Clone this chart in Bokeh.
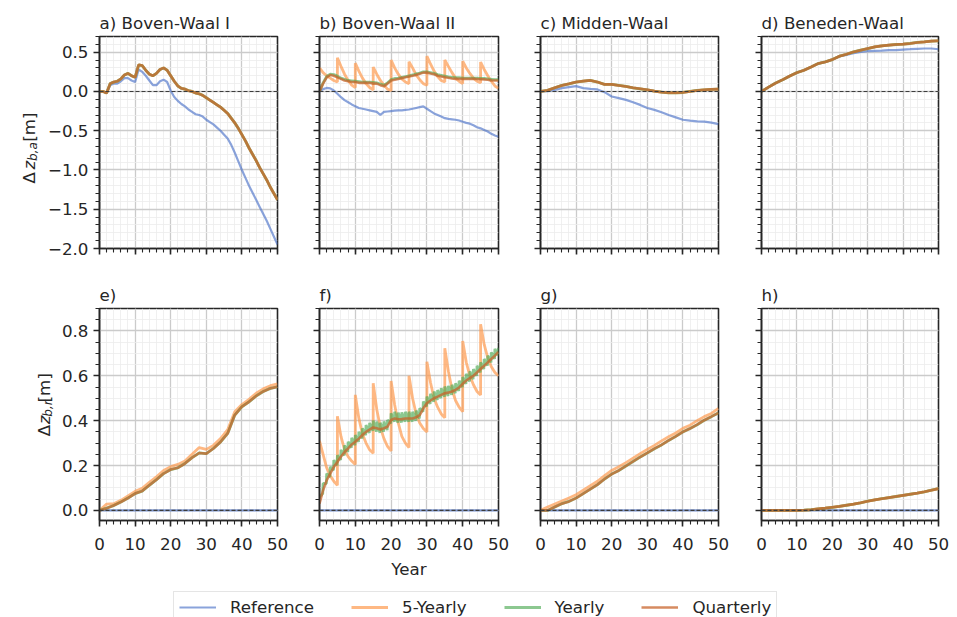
import math
from bokeh.plotting import figure
from bokeh.core.properties import value
from bokeh.models import (Range1d, FixedTicker, CustomJSTickFormatter, Span,
                          Legend, LegendItem)
from bokeh.layouts import row, column
from bokeh.embed import file_html
from bokeh.resources import INLINE

# ---------------------------------------------------------------- data
YEARS = list(range(0, 51))          # yearly sampled series
YEARS2 = list(range(0, 51, 2))      # two-yearly sampled series
ZERO_YEARS = [0, 50]
ZERO_REF = [0.0, 0.0]               # reference of the bottom row (no change)

# a) Boven-Waal I
A_REF = [0.0, 0.0, -0.02, 0.08, 0.1, 0.1, 0.13, 0.17, 0.17, 0.14, 0.12,
         0.28, 0.25, 0.2, 0.14, 0.08, 0.08, 0.13, 0.15, 0.12, 0.01,
         -0.07, -0.12, -0.16, -0.19, -0.23, -0.26, -0.29, -0.3, -0.32, -0.36,
         -0.39, -0.42, -0.46, -0.5, -0.55, -0.6, -0.68, -0.78, -0.89, -1.0,
         -1.1, -1.2, -1.29, -1.38, -1.47, -1.56, -1.65, -1.75, -1.85, -1.95]
A_SIM = [0.0, 0.0, -0.02, 0.1, 0.12, 0.13, 0.16, 0.21, 0.23, 0.2, 0.18,
         0.34, 0.33, 0.27, 0.22, 0.2, 0.23, 0.28, 0.3, 0.27, 0.2,
         0.13, 0.07, 0.04, 0.03, 0.01, 0.0, -0.02, -0.03, -0.05, -0.08,
         -0.11, -0.14, -0.17, -0.2, -0.24, -0.28, -0.34, -0.4, -0.47, -0.55,
         -0.63, -0.72, -0.8, -0.88, -0.97, -1.05, -1.13, -1.22, -1.3, -1.38]

# b) Boven-Waal II
B_REF = [0.0, 0.03, 0.045, 0.04, 0.013, -0.03, -0.073, -0.11, -0.137, -0.165, -0.19,
         -0.21, -0.22, -0.23, -0.24, -0.25, -0.26, -0.3, -0.26, -0.255, -0.25,
         -0.245, -0.24, -0.24, -0.235, -0.23, -0.22, -0.21, -0.2, -0.19, -0.22,
         -0.25, -0.28, -0.3, -0.32, -0.34, -0.35, -0.355, -0.36, -0.37, -0.385,
         -0.4, -0.41, -0.43, -0.455, -0.47, -0.49, -0.51, -0.54, -0.56, -0.576]
B_QUARTERLY = [0.0, 0.1, 0.18, 0.21, 0.2, 0.18, 0.16, 0.14, 0.13, 0.12, 0.12,
               0.11, 0.11, 0.11, 0.11, 0.1, 0.1, 0.08, 0.065, 0.1, 0.14,
               0.15, 0.16, 0.17, 0.18, 0.19, 0.2, 0.21, 0.225, 0.24, 0.24,
               0.23, 0.22, 0.2, 0.19, 0.18, 0.175, 0.165, 0.16, 0.16, 0.16,
               0.16, 0.16, 0.16, 0.158, 0.155, 0.154, 0.15, 0.14, 0.14, 0.14]
B_YEARLY = [0.0, 0.11, 0.19, 0.22, 0.215, 0.195, 0.17, 0.155, 0.14, 0.135, 0.13,
            0.125, 0.12, 0.12, 0.12, 0.115, 0.11, 0.095, 0.08, 0.11, 0.15,
            0.165, 0.17, 0.18, 0.19, 0.2, 0.21, 0.225, 0.235, 0.25, 0.25,
            0.24, 0.23, 0.215, 0.205, 0.195, 0.185, 0.18, 0.175, 0.175, 0.17,
            0.17, 0.17, 0.17, 0.17, 0.165, 0.165, 0.16, 0.155, 0.15, 0.15]
# 5-yearly: one row per 5-year cycle, values at years 0..5 of the cycle
B_5Y = [[0.30, 0.24, 0.20, 0.17, 0.14, 0.12],
        [0.43, 0.32, 0.22, 0.14, 0.08, 0.05],
        [0.36, 0.26, 0.17, 0.10, 0.05, 0.02],
        [0.31, 0.22, 0.14, 0.08, 0.03, 0.01],
        [0.40, 0.30, 0.22, 0.16, 0.12, 0.10],
        [0.38, 0.30, 0.21, 0.15, 0.10, 0.08],
        [0.45, 0.35, 0.26, 0.19, 0.14, 0.12],
        [0.40, 0.32, 0.24, 0.17, 0.13, 0.10],
        [0.385, 0.30, 0.23, 0.17, 0.13, 0.11],
        [0.375, 0.28, 0.20, 0.13, 0.07, 0.04]]

# c) Midden-Waal (two-yearly)
C_REF = [0.0, 0.004, 0.021, 0.043, 0.056, 0.068, 0.043, 0.034, 0.026, -0.009,
         -0.064, -0.085, -0.107, -0.137, -0.171, -0.21, -0.235, -0.265, -0.3,
         -0.33, -0.36, -0.372, -0.38, -0.385, -0.397, -0.415]
C_SIM = [0.0, 0.015, 0.047, 0.077, 0.098, 0.12, 0.132, 0.141, 0.12, 0.09,
         0.09, 0.077, 0.064, 0.047, 0.034, 0.021, 0.004, -0.009, -0.017,
         -0.017, -0.013, 0.0, 0.013, 0.021, 0.026, 0.03]

# d) Beneden-Waal (two-yearly)
D_REF = [0.0, 0.055, 0.107, 0.15, 0.197, 0.24, 0.27, 0.312, 0.355, 0.376,
         0.406, 0.445, 0.466, 0.487, 0.504, 0.513, 0.517, 0.521, 0.526,
         0.526, 0.534, 0.538, 0.543, 0.547, 0.547, 0.538]
D_SIM = [0.0, 0.055, 0.107, 0.15, 0.197, 0.24, 0.27, 0.312, 0.355, 0.376,
         0.406, 0.449, 0.474, 0.504, 0.526, 0.547, 0.568, 0.581, 0.59,
         0.598, 0.603, 0.611, 0.624, 0.632, 0.641, 0.645]

# e) (two-yearly)
E_SIM = [0.0, 0.01, 0.022, 0.037, 0.055, 0.075, 0.086, 0.112, 0.137, 0.164,
         0.182, 0.19, 0.209, 0.235, 0.256, 0.253, 0.276, 0.305, 0.343, 0.425,
         0.462, 0.484, 0.51, 0.53, 0.544, 0.551]
E_5Y = [0.0, 0.028, 0.03, 0.045, 0.065, 0.085, 0.098, 0.125, 0.15, 0.178,
        0.195, 0.205, 0.22, 0.25, 0.28, 0.272, 0.29, 0.32, 0.36, 0.44,
        0.472, 0.495, 0.522, 0.542, 0.556, 0.564]

# f)
F_QUARTERLY = [0.03, 0.09, 0.134, 0.164, 0.194, 0.216, 0.24, 0.26, 0.276, 0.294, 0.306,
               0.32, 0.336, 0.35, 0.36, 0.37, 0.366, 0.361, 0.366, 0.373, 0.403,
               0.41, 0.406, 0.407, 0.41, 0.41, 0.41, 0.415, 0.425, 0.455, 0.478,
               0.49, 0.5, 0.507, 0.515, 0.522, 0.525, 0.53, 0.537, 0.548, 0.564,
               0.579, 0.59, 0.6, 0.615, 0.63, 0.645, 0.66, 0.675, 0.69, 0.706]
# yearly: value just after each yearly nourishment (hi) and just before the next (lo)
F_YEARLY_HI = [0.06, 0.12, 0.164, 0.194, 0.224, 0.246, 0.27, 0.29, 0.306, 0.324,
               0.336, 0.35, 0.366, 0.38, 0.39, 0.4, 0.396, 0.391, 0.396, 0.403,
               0.433, 0.44, 0.436, 0.437, 0.44, 0.44, 0.44, 0.445, 0.455, 0.485,
               0.508, 0.52, 0.53, 0.537, 0.545, 0.552, 0.555, 0.56, 0.567, 0.578,
               0.594, 0.609, 0.62, 0.63, 0.645, 0.66, 0.675, 0.69, 0.705, 0.72]
F_YEARLY_LO = [0.075, 0.119, 0.149, 0.179, 0.201, 0.225, 0.245, 0.261, 0.279, 0.291,
               0.305, 0.321, 0.335, 0.345, 0.355, 0.351, 0.346, 0.351, 0.358, 0.388,
               0.395, 0.391, 0.392, 0.395, 0.395, 0.395, 0.4, 0.41, 0.44, 0.463,
               0.475, 0.485, 0.492, 0.5, 0.507, 0.51, 0.515, 0.522, 0.533, 0.549,
               0.564, 0.575, 0.585, 0.6, 0.615, 0.63, 0.645, 0.66, 0.675, 0.691]
F_YEARLY_END = 0.725
F_5Y = [[0.31, 0.25, 0.19, 0.155, 0.13, 0.112],
        [0.42, 0.33, 0.27, 0.24, 0.22, 0.205],
        [0.515, 0.41, 0.34, 0.30, 0.27, 0.255],
        [0.567, 0.45, 0.37, 0.32, 0.285, 0.265],
        [0.577, 0.47, 0.39, 0.33, 0.30, 0.28],
        [0.60, 0.50, 0.43, 0.39, 0.365, 0.35],
        [0.663, 0.57, 0.50, 0.46, 0.43, 0.413],
        [0.723, 0.62, 0.54, 0.49, 0.46, 0.44],
        [0.755, 0.66, 0.60, 0.56, 0.53, 0.514],
        [0.83, 0.74, 0.68, 0.64, 0.615, 0.60]]

# g) (two-yearly)
G_SIM = [0.0, 0.0, 0.015, 0.03, 0.04, 0.055, 0.075, 0.095, 0.115, 0.14,
         0.162, 0.178, 0.198, 0.218, 0.238, 0.256, 0.275, 0.292, 0.312, 0.33,
         0.35, 0.365, 0.382, 0.402, 0.418, 0.435]
G_5Y = [0.0, 0.015, 0.028, 0.042, 0.055, 0.07, 0.09, 0.11, 0.13, 0.155,
        0.178, 0.195, 0.213, 0.233, 0.253, 0.272, 0.29, 0.31, 0.328, 0.345,
        0.366, 0.38, 0.4, 0.418, 0.432, 0.455]

# h) (two-yearly)
H_SIM = [0.0, 0.0, 0.0, 0.0, 0.0, 0.0, 0.001, 0.003, 0.007, 0.01,
         0.014, 0.018, 0.023, 0.028, 0.034, 0.041, 0.047, 0.052, 0.057, 0.062,
         0.067, 0.072, 0.077, 0.083, 0.09, 0.097]

TITLES = ["a) Boven-Waal I", "b) Boven-Waal II", "c) Midden-Waal", "d) Beneden-Waal",
          "e)", "f)", "g)", "h)"]
SERIES = ["Reference", "5-Yearly", "Yearly", "Quarterly"]
YLABEL_SUB = ["b,a", "b,r"]

X_TICKS = [0, 10, 20, 30, 40, 50]
X_MINOR = list(range(0, 51, 2))
TOP_Y_TICKS = [-2.0, -1.5, -1.0, -0.5, 0.0, 0.5]
TOP_Y_MINOR = [round(-2.0 + 0.1 * i, 1) for i in range(28)]
BOT_Y_TICKS = [0.0, 0.2, 0.4, 0.6, 0.8]
BOT_Y_MINOR = [round(0.05 * i, 2) for i in range(19)]


def sawtooth5(segs):
    xs, ys = [], []
    for k, seg in enumerate(segs):
        for j, v in enumerate(seg):
            xs.append(5 * k + j)
            ys.append(v)
    return xs, ys


def sawtooth1(hi, lo, end):
    xs, ys = [], []
    for k in range(len(hi)):
        xs += [k, k + 0.9]
        ys += [hi[k], lo[k]]
    xs.append(len(hi))
    ys.append(end)
    return xs, ys


B5_X, B5_Y = sawtooth5(B_5Y)
F5_X, F5_Y = sawtooth5(F_5Y)
FY_X, FY_Y = sawtooth1(F_YEARLY_HI, F_YEARLY_LO, F_YEARLY_END)

PANELS = [
    {"Reference": (YEARS, A_REF), "5-Yearly": (YEARS, A_SIM), "Yearly": (YEARS, A_SIM), "Quarterly": (YEARS, A_SIM)},
    {"Reference": (YEARS, B_REF), "5-Yearly": (B5_X, B5_Y), "Yearly": (YEARS, B_YEARLY), "Quarterly": (YEARS, B_QUARTERLY)},
    {"Reference": (YEARS2, C_REF), "5-Yearly": (YEARS2, C_SIM), "Yearly": (YEARS2, C_SIM), "Quarterly": (YEARS2, C_SIM)},
    {"Reference": (YEARS2, D_REF), "5-Yearly": (YEARS2, D_SIM), "Yearly": (YEARS2, D_SIM), "Quarterly": (YEARS2, D_SIM)},
    {"Reference": (ZERO_YEARS, ZERO_REF), "5-Yearly": (YEARS2, E_5Y), "Yearly": (YEARS2, E_SIM), "Quarterly": (YEARS2, E_SIM)},
    {"Reference": (ZERO_YEARS, ZERO_REF), "5-Yearly": (F5_X, F5_Y), "Yearly": (FY_X, FY_Y), "Quarterly": (YEARS, F_QUARTERLY)},
    {"Reference": (ZERO_YEARS, ZERO_REF), "5-Yearly": (YEARS2, G_5Y), "Yearly": (YEARS2, G_SIM), "Quarterly": (YEARS2, G_SIM)},
    {"Reference": (ZERO_YEARS, ZERO_REF), "5-Yearly": (YEARS2, H_SIM), "Yearly": (YEARS2, H_SIM), "Quarterly": (YEARS2, H_SIM)},
]

# ---------------------------------------------------------------- style
FONT = "DejaVu Sans"
FS = "16.7px"
INK = "#262626"
STYLE = {
    "Reference": dict(line_color="#4c72c8", line_alpha=0.65, line_width=2.2),
    "5-Yearly": dict(line_color="#fd9a4f", line_alpha=0.7, line_width=2.8),
    "Yearly": dict(line_color="#4fab55", line_alpha=0.65, line_width=2.8),
    "Quarterly": dict(line_color="#c8642c", line_alpha=0.75, line_width=2.6),
}

# layout (pixels): label strip width and left border per row, then per column
LABEL_W = [40, 56]
LEFT = [[59, 21, 21, 21], [43, 21, 21, 21]]
RIGHT = [21, 21, 22, 19]
FRAME_W = [178, 179, 178, 177]
FRAME_H = 212
TOP_B = [36, 40]
BOT_B = [20, 65]


def style_axis(ax, show_labels, y=False):
    ax.axis_line_color = INK
    ax.axis_line_width = 1.6
    ax.major_tick_line_color = INK
    ax.major_tick_line_width = 1.6
    ax.major_tick_out = 6
    ax.major_tick_in = 0
    ax.minor_tick_line_color = INK
    ax.minor_tick_line_width = 1.1
    ax.minor_tick_out = 4
    ax.minor_tick_in = 0
    ax.major_label_text_font = FONT
    ax.major_label_text_color = INK
    if show_labels:
        ax.major_label_text_font_size = FS
        ax.major_label_standoff = 5 if y else 11
        if y:
            ax.formatter = CustomJSTickFormatter(code="return tick.toFixed(1).replace('-', '\\u2212');")
        else:
            ax.formatter = CustomJSTickFormatter(code="return tick.toFixed(0);")
    else:
        ax.major_label_text_font_size = "0px"
        ax.major_label_standoff = 0
        ax.formatter = CustomJSTickFormatter(code="return '';")


def make_panel(i):
    r = 0 if i < 4 else 1
    col = i % 4
    yr = Range1d(-2.0, 0.7) if r == 0 else Range1d(-0.045, 0.9)
    p = figure(frame_width=FRAME_W[col], frame_height=FRAME_H,
               x_range=Range1d(0, 50), y_range=yr,
               min_border_left=LEFT[r][col], min_border_right=RIGHT[col],
               min_border_top=TOP_B[r], min_border_bottom=BOT_B[r],
               output_backend="svg", toolbar_location=None,
               background_fill_color="white", border_fill_color="white")
    p.outline_line_color = INK
    p.outline_line_width = 1.6
    p.outline_line_alpha = 1.0

    p.title.text = TITLES[i]
    p.title.align = "left"
    p.title.text_font = FONT
    p.title.text_font_size = FS
    p.title.text_font_style = "normal"
    p.title.text_color = INK
    p.title.standoff = 7

    p.xaxis.ticker = FixedTicker(ticks=X_TICKS, minor_ticks=X_MINOR)
    if r == 0:
        p.yaxis.ticker = FixedTicker(ticks=TOP_Y_TICKS, minor_ticks=TOP_Y_MINOR)
    else:
        p.yaxis.ticker = FixedTicker(ticks=BOT_Y_TICKS, minor_ticks=BOT_Y_MINOR)
    style_axis(p.xaxis[0], show_labels=(r == 1))
    style_axis(p.yaxis[0], show_labels=(col == 0), y=True)

    for g in (p.xgrid[0], p.ygrid[0]):
        g.grid_line_color = "#cbcbcb"
        g.grid_line_width = 1.3
        g.minor_grid_line_color = "#ececec"
        g.minor_grid_line_width = 0.8

    data = PANELS[i]
    for name in SERIES:
        xs, ys = data[name]
        p.line(xs, ys, **STYLE[name])

    p.add_layout(Span(location=0, dimension="width", line_color="#3c3c3c",
                      line_width=1.1, line_dash="4 2"))

    if i == 5:
        p.xaxis.axis_label = "Year"
        p.xaxis.axis_label_text_font = FONT
        p.xaxis.axis_label_text_font_size = FS
        p.xaxis.axis_label_text_font_style = "normal"
        p.xaxis.axis_label_text_color = INK
        p.xaxis.axis_label_standoff = 6
    return p


def make_ylabel(r):
    """Narrow strip holding the rotated y-axis label  Δ z_{b,.} [m]."""
    w = LABEL_W[r]
    h = TOP_B[r] + FRAME_H + BOT_B[r]
    s = figure(width=w, height=h, min_border=0, title=None,
               x_range=Range1d(0, w), y_range=Range1d(0, h),
               x_axis_type=None, y_axis_type=None, toolbar_location=None,
               output_backend="svg", outline_line_color=None)
    mid = BOT_B[r] + FRAME_H / 2        # vertical centre of the panel frame
    base = 28 if r == 0 else 43          # text baseline (rotated)
    common = dict(angle=math.pi / 2, text_align="center", text_baseline="alphabetic",
                  text_font=value(FONT), text_color=INK)
    s.text(x=[base, base], y=[mid - 36.5, mid + 27.5], text=["\u0394", "[m]"],
           text_font_size=value(FS), text_font_style=value("normal"), **common)
    s.text(x=[base], y=[mid - 20.5], text=["z"],
           text_font_size=value(FS), text_font_style=value("italic"), **common)
    s.text(x=[base + 4], y=[mid - 3.5], text=[YLABEL_SUB[r]],
           text_font_size=value("12px"), text_font_style=value("italic"), **common)
    return s


panels = [make_panel(i) for i in range(8)]

# ---------------------------------------------------------------- legend strip
LEG_H = 32
leg = figure(width=957, height=LEG_H, min_border=0, title=None,
             x_range=Range1d(0, 1), y_range=Range1d(0, 1),
             x_axis_type=None, y_axis_type=None, toolbar_location=None,
             output_backend="svg", outline_line_color=None)
items = []
for name in SERIES:
    rr = leg.line(x=[-3, -2], y=[-3, -2], **STYLE[name])   # off-canvas; only its legend swatch shows
    items.append(LegendItem(label=name, renderers=[rr]))
legend = Legend(items=items, orientation="horizontal", location=(173, -6),
                label_text_font=FONT, label_text_font_size=FS, label_text_color=INK,
                glyph_width=37, glyph_height=18, label_height=18, label_standoff=14,
                spacing=37, padding=5, margin=0,
                border_line_color="#cccccc", border_line_width=1,
                background_fill_color="white", background_fill_alpha=1.0)
leg.add_layout(legend)

layout = column(row(make_ylabel(0), *panels[:4]),
                row(make_ylabel(1), *panels[4:]),
                leg)

open("out.html", "w").write(file_html(layout, INLINE))
